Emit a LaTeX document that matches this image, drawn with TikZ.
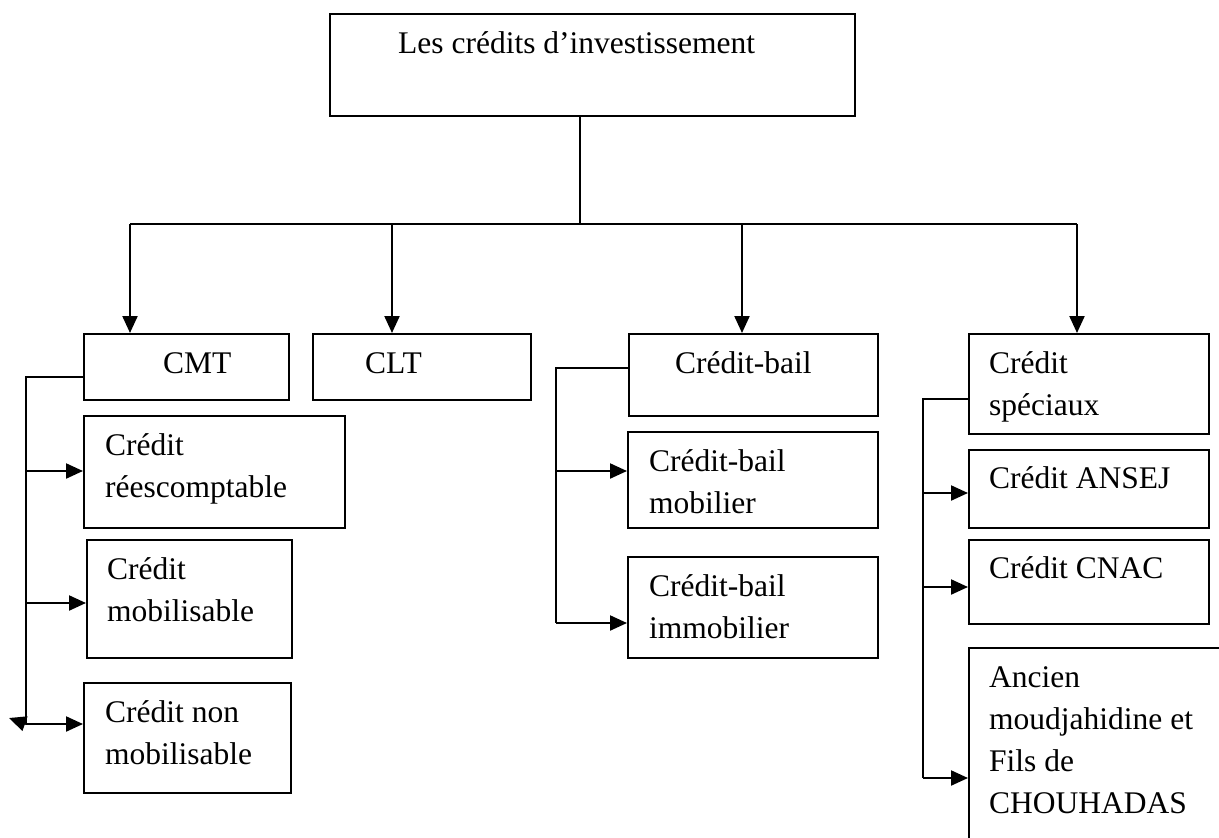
\documentclass[tikz,border=0pt]{standalone}
\usepackage{fontspec}
\setmainfont{Liberation Serif}
\usetikzlibrary{arrows.meta}
\begin{document}
\begin{tikzpicture}[x=1pt,y=-1pt,
  box/.style={draw, line width=2.2pt, rectangle, inner sep=0pt, anchor=north west},
  lbl/.style={anchor=base west, inner sep=0pt, font=\fontsize{31.5}{42}\selectfont},
  link/.style={line width=2.2pt},
  arr/.style={line width=2.2pt, -{Triangle[length=17pt,width=15pt]}}]
\useasboundingbox (0,0) rectangle (1219,838);
\clip (0,0) rectangle (1219,838);

% root
\node[box, minimum width=525pt, minimum height=102pt] (top) at (329,13) {};
\node[lbl] (top-t) at (398,53) {Les crédits d’investissement};

% first level
\node[box, minimum width=205pt, minimum height=66pt] (cmt) at (83,333) {};
\node[lbl] (cmt-t) at (163,373) {CMT};
\node[box, minimum width=218pt, minimum height=66pt] (clt) at (312,333) {};
\node[lbl] (clt-t) at (365,373) {CLT};
\node[box, minimum width=249pt, minimum height=82pt] (bail) at (628,333) {};
\node[lbl] (bail-t) at (675,373) {Crédit-bail};
\node[box, minimum width=240pt, minimum height=100pt] (spec) at (968,333) {};
\node[lbl] (spec-t) at (989,373) {\vtop{\hbox{Crédit}\hbox{spéciaux}}};

% CMT branch
\node[box, minimum width=261pt, minimum height=112pt] (rees) at (83,415) {};
\node[lbl] (rees-t) at (105,455) {\vtop{\hbox{Crédit}\hbox{réescomptable}}};
\node[box, minimum width=205pt, minimum height=118pt] (mob) at (86,539) {};
\node[lbl] (mob-t) at (107,579) {\vtop{\hbox{Crédit}\hbox{mobilisable}}};
\node[box, minimum width=207pt, minimum height=110pt] (nonmob) at (83,682) {};
\node[lbl] (nonmob-t) at (105,722) {\vtop{\hbox{Crédit non}\hbox{mobilisable}}};

% Crédit-bail branch
\node[box, minimum width=250pt, minimum height=96pt] (bmob) at (627,431) {};
\node[lbl] (bmob-t) at (649,471) {\vtop{\hbox{Crédit-bail}\hbox{mobilier}}};
\node[box, minimum width=250pt, minimum height=101pt] (bimmob) at (627,556) {};
\node[lbl] (bimmob-t) at (649,596) {\vtop{\hbox{Crédit-bail}\hbox{immobilier}}};

% special credits branch
\node[box, minimum width=240pt, minimum height=78pt] (ansej) at (968,449) {};
\node[lbl] (ansej-t) at (989,488) {Crédit ANSEJ};
\node[box, minimum width=240pt, minimum height=84pt] (cnac) at (968,539) {};
\node[lbl] (cnac-t) at (989,578) {Crédit CNAC};
\node[box, minimum width=300pt, minimum height=260pt] (ancien) at (968,647) {};
\node[lbl] (ancien-t) at (989,687) {\vtop{\hbox{Ancien}\hbox{moudjahidine et}\hbox{Fils de}\hbox{CHOUHADAS}}};

% trunk and bus
\coordinate (stem) at (580,224);
\coordinate (busl) at (130,224);
\coordinate (busr) at (1077,224);
\coordinate (d2) at (392,224);
\coordinate (d3) at (742,224);
\draw[link] (top.south -| stem) -- (stem);
\draw[link] (busl) -- (busr);
\draw[arr] (busl) -- (busl |- cmt.north);
\draw[arr] (d2) -- (d2 |- clt.north);
\draw[arr] (d3) -- (d3 |- bail.north);
\draw[arr] (busr) -- (busr |- spec.north);

% CMT bracket
\coordinate (lt) at (26,377);
\coordinate (l1) at (26,471);
\coordinate (l2) at (26,603);
\coordinate (lb) at (26,724);
\coordinate (lx) at (9,718);
\draw[link] (cmt.west |- lt) -- (lt) -- (lb);
\draw[arr] (l1) -- (l1 -| rees.west);
\draw[arr] (l2) -- (l2 -| mob.west);
\draw[arr] (lb) -- (lb -| nonmob.west);
\draw[arr] (lb) -- (lx);

% Crédit-bail bracket
\coordinate (mt) at (556,368);
\coordinate (m1) at (556,471);
\coordinate (mb) at (556,623);
\draw[link] (bail.west |- mt) -- (mt) -- (mb);
\draw[arr] (m1) -- (m1 -| bmob.west);
\draw[arr] (mb) -- (mb -| bimmob.west);

% special credits bracket
\coordinate (rt) at (923,399);
\coordinate (r1) at (923,493);
\coordinate (r2) at (923,587);
\coordinate (rb) at (923,778);
\draw[link] (spec.west |- rt) -- (rt) -- (rb);
\draw[arr] (r1) -- (r1 -| ansej.west);
\draw[arr] (r2) -- (r2 -| cnac.west);
\draw[arr] (rb) -- (rb -| ancien.west);
\end{tikzpicture}
\end{document}
